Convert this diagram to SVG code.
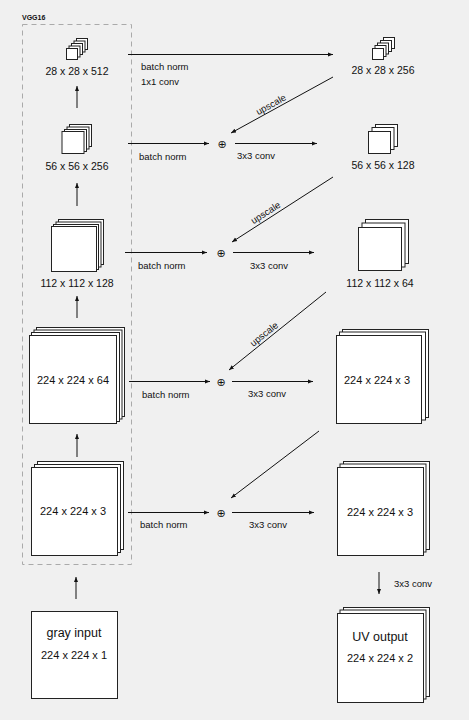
<svg xmlns="http://www.w3.org/2000/svg" width="469" height="720" viewBox="0 0 469 720">
<defs>
<marker id="ah" markerWidth="6" markerHeight="6" refX="5" refY="3" orient="auto" markerUnits="userSpaceOnUse">
<path d="M0,1 L5,3 L0,5 Z" fill="#111"/>
</marker>
</defs>
<style>
.l{fill:#fff;stroke:#222;stroke-width:1}
.t{font-family:"Liberation Sans",Arial,sans-serif;font-size:10.5px;fill:#111;text-anchor:middle}
.s{font-family:"Liberation Sans",Arial,sans-serif;font-size:9.5px;fill:#111}
.b{font-family:"Liberation Sans",Arial,sans-serif;font-size:12.5px;fill:#111;text-anchor:middle}
.c{stroke:#111;stroke-width:1;fill:none;marker-end:url(#ah)}
.p{font-family:"DejaVu Sans",sans-serif;font-size:11px;fill:#111;text-anchor:middle}
</style>
<rect width="469" height="720" fill="#f0f0f0"/>
<g id="vgg16">
<rect x="22.5" y="24.5" width="109" height="540" fill="none" stroke="#aaa" stroke-dasharray="5,4"/>
<text x="22" y="20" style="font-family:'Liberation Sans',Arial,sans-serif;font-size:7px;font-weight:bold;fill:#111">VGG16</text>
</g>
<g id="l1">
<rect class="l" x="76.5" y="38.5" width="11" height="11"/>
<rect class="l" x="74" y="41" width="11" height="11"/>
<rect class="l" x="71.5" y="43.5" width="11" height="11"/>
<rect class="l" x="69" y="46" width="11" height="11"/>
<rect class="l" x="66.5" y="48.5" width="11" height="11"/>
<text class="t" x="77" y="75">28 x 28 x 512</text>
</g>
<g id="l2">
<rect class="l" x="69.5" y="124.5" width="22" height="22"/>
<rect class="l" x="67" y="127" width="22" height="22"/>
<rect class="l" x="64.5" y="129.5" width="22" height="22"/>
<rect class="l" x="62" y="131.5" width="22" height="22"/>
<text class="t" x="77" y="170">56 x 56 x 256</text>
</g>
<g id="l3">
<rect class="l" x="58.5" y="219.5" width="45" height="45"/>
<rect class="l" x="56" y="222" width="45" height="45"/>
<rect class="l" x="53.5" y="224.5" width="45" height="45"/>
<rect class="l" x="51.5" y="226.5" width="45" height="45"/>
<text class="t" x="77" y="287">112 x 112 x 128</text>
</g>
<g id="l4">
<rect class="l" x="36.5" y="327.5" width="88" height="89"/>
<rect class="l" x="34" y="330" width="88" height="89"/>
<rect class="l" x="31.5" y="332.5" width="88" height="89"/>
<rect class="l" x="29.5" y="335.5" width="87" height="88"/>
<text class="t" x="73" y="384" style="font-size:11px">224 x 224 x 64</text>
</g>
<g id="l5">
<rect class="l" x="37.5" y="461.5" width="86" height="88"/>
<rect class="l" x="34.5" y="464.5" width="86" height="88"/>
<rect class="l" x="31.5" y="467.5" width="86" height="88"/>
<text class="t" x="73" y="515" style="font-size:11px">224 x 224 x 3</text>
</g>
<g id="gray">
<rect class="l" x="31.5" y="611.5" width="86" height="87"/>
<text class="b" x="74" y="637">gray input</text>
<text class="t" x="74" y="659" style="font-size:11px">224 x 224 x 1</text>
</g>
<g id="r1">
<rect class="l" x="383.5" y="37.5" width="11" height="11"/>
<rect class="l" x="380.5" y="40.5" width="11" height="11"/>
<rect class="l" x="377.5" y="43" width="11" height="11"/>
<rect class="l" x="375" y="45.5" width="11" height="11"/>
<rect class="l" x="372.5" y="48.5" width="11" height="11"/>
<text class="t" x="383" y="74">28 x 28 x 256</text>
</g>
<g id="r2">
<rect class="l" x="375.5" y="124.5" width="22" height="22"/>
<rect class="l" x="372" y="127.5" width="22" height="22"/>
<rect class="l" x="368.5" y="131.5" width="22" height="22"/>
<text class="t" x="383" y="169">56 x 56 x 128</text>
</g>
<g id="r3">
<rect class="l" x="365.5" y="219.5" width="43" height="44"/>
<rect class="l" x="362" y="223" width="43" height="44"/>
<rect class="l" x="358.5" y="227.5" width="43" height="43"/>
<text class="t" x="380" y="287">112 x 112 x 64</text>
</g>
<g id="r4">
<rect class="l" x="342.5" y="329.5" width="86" height="88"/>
<rect class="l" x="339.5" y="332" width="86" height="88"/>
<rect class="l" x="336.5" y="335.5" width="85" height="88"/>
<text class="t" x="377" y="384" style="font-size:11px">224 x 224 x 3</text>
</g>
<g id="r5">
<rect class="l" x="343.5" y="461.5" width="86" height="88"/>
<rect class="l" x="340" y="464" width="86" height="88"/>
<rect class="l" x="337.5" y="467.5" width="86" height="88"/>
<text class="t" x="380" y="516" style="font-size:11px">224 x 224 x 3</text>
</g>
<g id="uv">
<rect class="l" x="343.5" y="607.5" width="86" height="89"/>
<rect class="l" x="340" y="610" width="86" height="89"/>
<rect class="l" x="337.5" y="613.5" width="86" height="89"/>
<text class="b" x="380" y="641">UV output</text>
<text class="t" x="380" y="662" style="font-size:11px">224 x 224 x 2</text>
</g>
<g id="connectors">
<line class="c" x1="77" y1="108" x2="77" y2="86"/>
<line class="c" x1="77" y1="206" x2="77" y2="183"/>
<line class="c" x1="77" y1="318" x2="77" y2="296"/>
<line class="c" x1="77" y1="457" x2="77" y2="434"/>
<line class="c" x1="76" y1="599" x2="76" y2="577"/>
<line class="c" x1="379" y1="572" x2="379" y2="594"/>
<text class="s" x="394" y="587">3x3 conv</text>

<line class="c" x1="128" y1="54.5" x2="333" y2="54.5"/>
<text class="s" x="141" y="70">batch norm</text>
<text class="s" x="141" y="85">1x1 conv</text>

<line class="c" x1="333" y1="77" x2="231" y2="133"/>
<text class="s" transform="translate(274,110) rotate(-28.8)" x="0" y="-3" text-anchor="middle">upscale</text>
<line class="c" x1="128" y1="143.5" x2="209" y2="143.5"/>
<text class="p" x="222" y="147.5">⊕</text>
<line class="c" x1="235" y1="143.5" x2="317" y2="143.5"/>
<text class="s" x="139" y="160">batch norm</text>
<text class="s" x="237" y="159">3x3 conv</text>

<line class="c" x1="333" y1="177" x2="232" y2="242"/>
<text class="s" transform="translate(269,218) rotate(-32.8)" x="0" y="-3" text-anchor="middle">upscale</text>
<line class="c" x1="125" y1="252.5" x2="207" y2="252.5"/>
<text class="p" x="221" y="256.5">⊕</text>
<line class="c" x1="233" y1="252.5" x2="314" y2="252.5"/>
<text class="s" x="138" y="269">batch norm</text>
<text class="s" x="250" y="269">3x3 conv</text>

<line class="c" x1="326" y1="292" x2="229" y2="370"/>
<text class="s" transform="translate(268,339) rotate(-38.8)" x="0" y="-3" text-anchor="middle">upscale</text>
<line class="c" x1="129" y1="381.5" x2="210" y2="381.5"/>
<text class="p" x="221" y="385.5">⊕</text>
<line class="c" x1="232" y1="381.5" x2="313" y2="381.5"/>
<text class="s" x="142" y="398">batch norm</text>
<text class="s" x="248" y="397">3x3 conv</text>

<line class="c" x1="319" y1="431" x2="231" y2="498"/>
<line class="c" x1="128" y1="512.5" x2="209" y2="512.5"/>
<text class="p" x="221" y="516.5">⊕</text>
<line class="c" x1="232" y1="512.5" x2="314" y2="512.5"/>
<text class="s" x="140" y="528">batch norm</text>
<text class="s" x="249" y="528">3x3 conv</text>
</g>
</svg>
